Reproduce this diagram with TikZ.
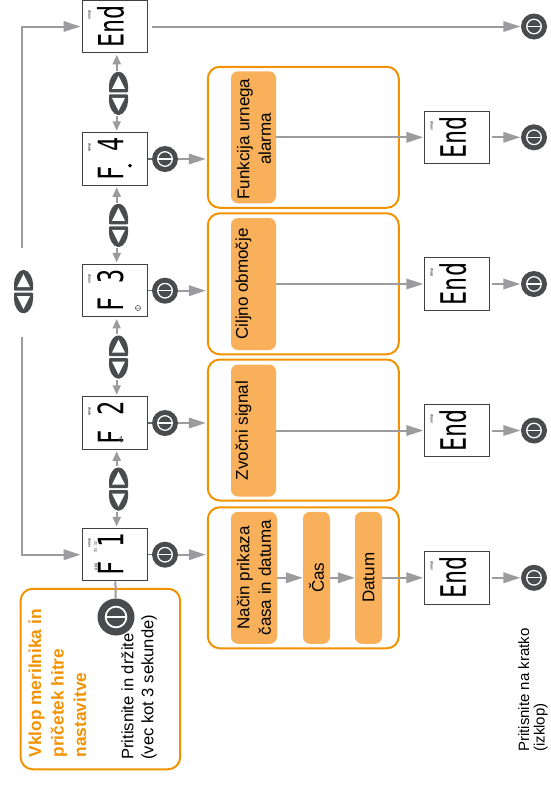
\documentclass[tikz,border=0pt]{standalone}
\usepackage{fontspec}
\setmainfont{Liberation Sans}
\newfontfamily\lcdfont{DejaVu Sans Mono}
\usetikzlibrary{arrows.meta}
\definecolor{ringorange}{HTML}{F39200}
\definecolor{bloborange}{HTML}{F8B05A}
\definecolor{flowgray}{HTML}{9C9C9E}
\definecolor{btndark}{HTML}{4A4B4D}
\tikzset{
  flow/.style={draw=flowgray, line width=2pt, -{Triangle[length=17pt,width=10.5pt]}},
  stem/.style={draw=flowgray!70!black, line width=1.3pt},
  hop/.style={draw=flowgray, line width=2pt, -{Triangle[length=9.5pt,width=8pt]}, shorten <=1.5pt, shorten >=1.5pt},
  frame/.style={draw=ringorange, line width=2pt, rounded corners=12pt, minimum width=191pt, minimum height=141pt, inner sep=0pt},
  blob/.style={fill=bloborange, rounded corners=7pt, minimum width=#1, minimum height=132pt, inner sep=0pt},
  vtext/.style={rotate=90, font=\fontsize{17}{21.5}\selectfont, align=center, inner sep=0pt},
  lcd/.style={draw=black!75, line width=1pt, fill=white, minimum width=65pt, minimum height=52.5pt, inner sep=0pt},
  lcdtext/.style={rotate=90, font=\lcdfont\fontsize{35}{35}\selectfont, inner sep=0pt},
  tiny/.style={rotate=90, font=\fontsize{3.6}{4}\selectfont, inner sep=0pt},
  padbox/.style={minimum width=19pt, minimum height=42pt, inner sep=0pt},
  btn/.style={circle, fill=btndark, minimum size={2*#1}, inner sep=0pt,
    path picture={
      \draw[white, line width={.1*#1}] (path picture bounding box.center) circle ({.56*#1});
      \draw[white, line width={.1*#1}] (path picture bounding box.center) ++({-.56*#1},0) -- ++({1.12*#1},0);
    }},
  dome/.pic={
    \fill[btndark, rounded corners=1pt] (-9.5,-1) -- (-9.5,-7) .. controls (-9.5,-14) and (-5,-21.5) .. (0,-21.5)
      .. controls (5,-21.5) and (9.5,-14) .. (9.5,-7) -- (9.5,-1) -- cycle;
    \fill[white] (0,-17.5) -- (-6.5,-4.5) -- (6.5,-4.5) -- cycle;
  },
  updown/.pic={
    \pic {dome};
    \pic[yscale=-1] {dome};
  }
}
% one display: name, centre, reading
\newcommand{\lcdbox}[4]{
  \node[lcd] (#1) at (#2,#3) {};
  \node[lcdtext] (#1txt) at (110.5,#3) {\scalebox{.67}[1]{#4}};
  \node[tiny] (#1set) at (89.5,{#3-11.5}) {setup};
}
\newcommand{\finishbox}[2]{
  \node[lcd] (#1) at (457.3,#2) {};
  \node[lcdtext] (#1txt) at (452.8,#2) {\scalebox{.67}[1]{End}};
  \node[tiny] (#1set) at (431.8,{#2-11.5}) {setup};
}
\begin{document}
\begin{tikzpicture}[x=1pt,y=-1pt]
\useasboundingbox (0,0) rectangle (550,785);

% displays on the left
\lcdbox{dEnd}{115}{26.5}{End}
\lcdbox{dFour}{115}{159}{F 4}
\lcdbox{dThree}{115}{290.7}{F 3}
\lcdbox{dTwo}{115}{423}{F 2}
\lcdbox{dOne}{115}{554.7}{F 1}

\node[tiny] (dOnetimeA) at (95.5,547) {31\,:\,12};
\node[tiny] (dOnetimeB) at (96,567) {0:00};
\fill[black] (130,163.5) -- (132,165.5) -- (130,167.5) -- (128,165.5) -- cycle;
\draw[black!70, line width=.5pt] (138,308) circle (2.6) (135.4,308) -- (140.6,308);
\draw[black!70, line width=.5pt] (119,439.5) -- (121.5,436.5) -- (121.5,442) -- cycle;

% up and down pads
\node[padbox] (padA) at (118.5,93.3) {};
\node[padbox] (padB) at (118.5,225.3) {};
\node[padbox] (padC) at (118.5,357) {};
\node[padbox] (padD) at (118.5,489) {};
\node[padbox] (padMain) at (23.5,291.7) {};
\foreach \p in {padA,padB,padC,padD,padMain}
  \pic at (\p) {updown};

\foreach \p/\a/\b in {padA/dEnd/dFour, padB/dFour/dThree, padC/dThree/dTwo, padD/dTwo/dOne}{
  \draw[hop] ([xshift=-1.8pt]\p.north) -- ([xshift=1.7pt]\a.south);
  \draw[hop] ([xshift=-1.8pt]\p.south) -- ([xshift=1.7pt]\b.north);
}

% the long way round on the left
\coordinate (cornerLow) at (22,554.7);
\coordinate (cornerHigh) at (22,26.5);
\coordinate (gapLow) at (22,337);
\coordinate (gapHigh) at (22,248);
\draw[flow, shorten >=1.5pt] (gapLow) -- (cornerLow) -- (dOne);
\draw[flow, shorten >=1.5pt] (gapHigh) -- (cornerHigh) -- (dEnd);

% frames
\node[frame] (frameFour) at (303.3,137.3) {};
\node[frame] (frameThree) at (303.3,283.8) {};
\node[frame] (frameTwo) at (303.3,430) {};
\node[frame] (frameOne) at (303.3,577.8) {};

% buttons on the displays
\foreach \d/\b/\f in {dFour/btnFour/frameFour, dThree/btnThree/frameThree, dTwo/btnTwo/frameTwo, dOne/btnOne/frameOne}{
  \node[btn=13pt] (\b) at (165,0 |- \d) {};
  \draw[stem] (\d) -- (\b);
  \draw[flow, shorten >=1pt] (\b) -- (\b -| \f.west);
}

% blobs
\node[blob=45pt] (blobFour) at (253.5,137.3) {};
\node[vtext] (blobFourtxt) at (254,139) {Funkcija urnega\\alarma};
\node[blob=45pt] (blobThree) at (253.5,284) {};
\node[vtext] (blobThreetxt) at (243.5,284) {Ciljno območje};
\node[blob=45pt] (blobTwo) at (253.5,430.5) {};
\node[vtext] (blobTwotxt) at (243.5,430.5) {Zvočni signal};
\node[blob=46pt] (blobOneA) at (254,577.8) {};
\node[vtext] (blobOneAtxt) at (blobOneA) {Način prikaza\\časa in datuma};
\node[blob=27pt] (blobOneB) at (316.5,577.8) {};
\node[vtext] (blobOneBtxt) at (blobOneB) {Čas};
\node[blob=27pt] (blobOneC) at (368.5,577.8) {};
\node[vtext] (blobOneCtxt) at (blobOneC) {Datum};

% right hand column
\finishbox{eFour}{137.3}
\finishbox{eThree}{284}
\finishbox{eTwo}{430.5}
\finishbox{eOne}{577.8}

\draw[flow, shorten >=1pt] (blobFour.east) -- (eFour);
\draw[flow, shorten >=1pt] (blobThree.east) -- (eThree);
\draw[flow, shorten >=1pt] (blobTwo.east) -- (eTwo);
\draw[flow] (blobOneA.east) -- (blobOneB.west);
\draw[flow] (blobOneB.east) -- (blobOneC.west);
\draw[flow, shorten >=1pt] (blobOneC.east) -- (eOne);

\foreach \e/\b in {eFour/offFour, eThree/offThree, eTwo/offTwo, eOne/offOne}{
  \node[btn=13pt] (\b) at (534,0 |- \e) {};
  \draw[flow, shorten <=1.5pt, shorten >=.5pt] (\e) -- (\b);
}
\node[btn=13pt] (offEnd) at (534,26.5) {};
\draw[flow, shorten <=4pt, shorten >=.5pt] (dEnd) -- (offEnd);

% start box
\node[draw=ringorange, line width=2pt, rounded corners=12pt, minimum width=159.5pt, minimum height=180.5pt, inner sep=0pt] (startBox) at (100.4,679) {};
\node[btn=18.5pt] (btnStart) at (116,617) {};
\draw[flow, -] (dOne) -- (btnStart);
\node[rotate=90, anchor=north west, align=left, inner sep=0pt, text=ringorange, font=\bfseries\fontsize{17.3}{22.5}\selectfont] (startTitle) at (28.5,757.5) {Vklop merilnika in\\pričetek hitre\\nastavitve};
\node[rotate=90, anchor=north west, align=left, inner sep=0pt, font=\fontsize{16.6}{20}\selectfont] (startHint) at (121,760) {Pritisnite in držite\\(vec kot 3 sekunde)};

\node[rotate=90, anchor=north west, align=left, inner sep=0pt, font=\fontsize{15}{15.5}\selectfont] (offHint) at (518,752) {Pritisnite na kratko\\(izklop)};
\end{tikzpicture}
\end{document}
